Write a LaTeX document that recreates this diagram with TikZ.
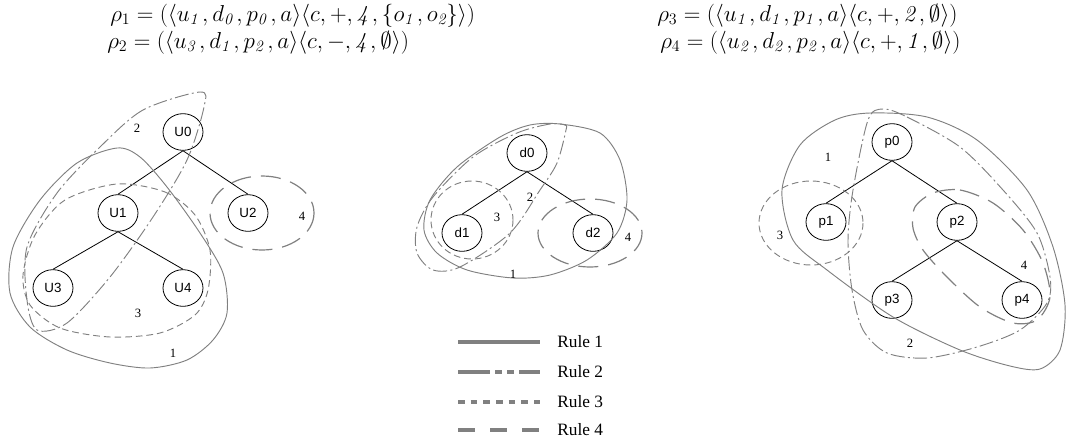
\documentclass[tikz,border=0pt]{standalone}
\usepackage{fontspec}
\newfontfamily\arialf{Liberation Sans}
\newfontfamily\timesf{Liberation Serif}
\usetikzlibrary{shapes.geometric}
\definecolor{rulegray}{RGB}{128,128,128}
\tikzset{
  tn/.style={draw, ellipse, line width=0.6pt, minimum width=30pt, minimum height=27.5pt, inner sep=0pt, font=\arialf\fontsize{10}{12}\selectfont},
  edge/.style={line width=0.6pt},
  rone/.style={draw=rulegray, line width=0.7pt},
  rtwo/.style={draw=rulegray, line width=0.7pt, dash pattern=on 10.5pt off 2.5pt on 1.5pt off 2.5pt},
  rthree/.style={draw=rulegray, line width=0.7pt, dash pattern=on 5pt off 3pt},
  rfour/.style={draw=rulegray, line width=0.9pt, dash pattern=on 15pt off 7.5pt},
  num/.style={font=\timesf\fontsize{9.5}{11}\selectfont, inner sep=0pt},
  leg/.style={draw=rulegray, line width=2.3pt},
  legtext/.style={font=\timesf\fontsize{13}{15}\selectfont, anchor=west, inner sep=0pt},
  formula/.style={anchor=base west, inner sep=0pt, font=\fontsize{17}{20}\selectfont}
}
\begin{document}
\begin{tikzpicture}[x=0.75pt, y=-0.75pt]
\useasboundingbox (0,0) rectangle (1066,443);

% formulas
\node[formula] (f1) at (110,21) {$\rho_1 = (\langle u_{\mathit{1}}\,, d_{\mathit{0}}\,, p_{\mathit{0}}\,, a\rangle\langle c, +, \mathit{4}\,, \{o_{\mathit{1}}\,, o_{\mathit{2}}\}\rangle)$};
\node[formula] (f2) at (107,48) {$\rho_2 = (\langle u_{\mathit{3}}\,, d_{\mathit{1}}\,, p_{\mathit{2}}\,, a\rangle\langle c, -, \mathit{4}\,, \emptyset\rangle)$};
\node[formula] (f3) at (657,21) {$\rho_3 = (\langle u_{\mathit{1}}\,, d_{\mathit{1}}\,, p_{\mathit{1}}\,, a\rangle\langle c, +, \mathit{2}\,, \emptyset\rangle)$};
\node[formula] (f4) at (660,48) {$\rho_4 = (\langle u_{\mathit{2}}\,, d_{\mathit{2}}\,, p_{\mathit{2}}\,, a\rangle\langle c, +, \mathit{1}\,, \emptyset\rangle)$};

% ---------- left tree ----------
\node[tn] (U0) at (183,132) {U0};
\node[tn] (U1) at (118,213) {U1};
\node[tn] (U2) at (248,213) {U2};
\node[tn] (U3) at (53,288) {U3};
\node[tn] (U4) at (183,288) {U4};
\draw[edge] (U0.south) -- (U1.north);
\draw[edge] (U0.south) -- (U2.north);
\draw[edge] (U1.south) -- (U3.north);
\draw[edge] (U1.south) -- (U4.north);

\draw[rone] plot[smooth cycle] coordinates {(117,148) (140,157) (167,187) (200,233) (223,273) (227,313) (213,340) (187,360) (150,368) (110,363) (67,350) (30,327) (10,293) (13,247) (40,200) (77,163)};
\draw[rthree] plot[smooth cycle] coordinates {(117,184) (165,192) (195,215) (210,250) (208,290) (195,315) (160,333) (110,337) (60,328) (30,305) (23,275) (35,235) (65,200)};
\draw[rtwo] plot[smooth cycle] coordinates {(200,92) (143,110) (100,147) (57,193) (27,247) (27,300) (37,330) (67,323) (110,277) (153,217) (187,160) (204,107)};
\draw[rfour] (262,213) ellipse [x radius=52, y radius=37];
\node[num] (l1a) at (173,353) {1};
\node[num] (l2a) at (137,128) {2};
\node[num] (l3a) at (138,313) {3};
\node[num] (l4a) at (302,216) {4};

% ---------- middle tree ----------
\node[tn] (d0) at (527,153) {d0};
\node[tn] (d1) at (462,233) {d1};
\node[tn] (d2) at (593,233) {d2};
\draw[edge] (d0.south) -- (d1.north);
\draw[edge] (d0.south) -- (d2.north);

\draw[rone] plot[smooth cycle] coordinates {(560,124) (600,133) (620,160) (627,200) (617,233) (587,260) (550,275) (513,278) (467,270) (437,253) (424,230) (430,200) (457,167) (500,137) (530,125)};
\draw[rtwo] plot[smooth cycle] coordinates {(566,130) (557,163) (540,190) (510,233) (460,267) (433,270) (417,253) (417,227) (433,197) (473,157) (517,133) (550,124) (565,125)};
\draw[rthree] (472,220) ellipse [x radius=41, y radius=39];
\draw[rfour] (590,233) ellipse [x radius=52, y radius=34];
\node[num] (l1b) at (513,274) {1};
\node[num] (l2b) at (530,197) {2};
\node[num] (l3b) at (497,217) {3};
\node[num] (l4b) at (628,237) {4};

% ---------- right tree ----------
\node[tn] (p0) at (892,142) {p0};
\node[tn] (p1) at (826,222) {p1};
\node[tn] (p2) at (957,222) {p2};
\node[tn] (p3) at (892,300) {p3};
\node[tn] (p4) at (1022,300) {p4};
\draw[edge] (p0.south) -- (p1.north);
\draw[edge] (p0.south) -- (p2.north);
\draw[edge] (p2.south) -- (p3.north);
\draw[edge] (p2.south) -- (p4.north);

\draw[rone] plot[smooth cycle] coordinates {(870,113) (927,117) (977,140) (1027,190) (1053,247) (1065,305) (1060,350) (1040,369) (1010,366) (960,350) (893,317) (827,270) (793,240) (782,190) (800,145) (835,120)};
\draw[rtwo] plot[smooth cycle] coordinates {(883,109) (907,117) (960,147) (1003,190) (1037,233) (1050,277) (1047,303) (1020,330) (977,347) (927,358) (887,353) (863,330) (852,290) (848,240) (853,190) (868,120)};
\draw[rthree] (811,223) ellipse [x radius=52, y radius=42];
\draw[rfour] plot[smooth cycle] coordinates {(933,193) (960,190) (993,203) (1023,230) (1043,263) (1050,297) (1037,320) (1013,323) (980,307) (947,277) (923,250) (913,228) (915,207)};
\node[num] (l1c) at (828,157) {1};
\node[num] (l2c) at (910,343) {2};
\node[num] (l3c) at (780,235) {3};
\node[num] (l4c) at (1024,265) {4};

% ---------- legend ----------
\coordinate (a1) at (458,342); \coordinate (b1) at (540,342);
\coordinate (a2) at (458,372); \coordinate (b2) at (540,372);
\coordinate (a3) at (458,402); \coordinate (b3) at (540,402);
\coordinate (a4) at (458,430); \coordinate (b4) at (540,430);
\draw[leg] (a1) -- (b1);
\draw[leg, dash pattern=on 24pt off 4pt on 5pt off 4pt on 5pt off 4pt] (a2) -- (b2);
\draw[leg, dash pattern=on 5pt off 4.5pt] (a3) -- (b3);
\draw[leg, dash pattern=on 12.75pt off 11.25pt] (a4) -- (b4);
\node[legtext] (t1) at (557,342) {Rule 1};
\node[legtext] (t2) at (557,372) {Rule 2};
\node[legtext] (t3) at (557,402) {Rule 3};
\node[legtext] (t4) at (557,430) {Rule 4};
\end{tikzpicture}
\end{document}
